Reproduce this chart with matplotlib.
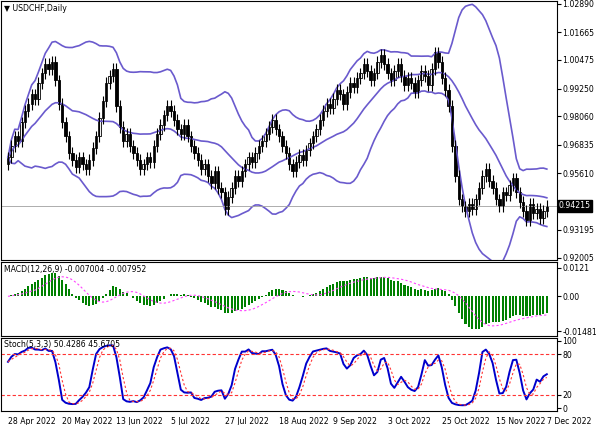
import numpy as np
import pandas as pd
import matplotlib
matplotlib.use('Agg')
import matplotlib.pyplot as plt

# approximate daily closes, USDCHF 28 Apr - 7 Dec 2022
closes = [
    0.963, 0.968, 0.972, 0.970, 0.978, 0.983, 0.986, 0.990, 0.988, 0.995, 0.999, 1.003, 1.001, 1.004, 0.996, 0.986,
    0.978, 0.972, 0.965, 0.962, 0.959, 0.963, 0.960, 0.958, 0.962, 0.967, 0.972, 0.980, 0.987, 0.995, 0.998, 1.001,
    0.985, 0.976, 0.970, 0.973, 0.968, 0.965, 0.962, 0.958, 0.960, 0.963, 0.961, 0.968, 0.973, 0.977, 0.981, 0.985,
    0.983, 0.979, 0.975, 0.973, 0.977, 0.972, 0.968, 0.965, 0.962, 0.958, 0.960, 0.955, 0.952, 0.957, 0.950, 0.948,
    0.941, 0.946, 0.950, 0.955, 0.953, 0.957, 0.960, 0.963, 0.961, 0.965, 0.968, 0.970, 0.973, 0.976, 0.979, 0.975,
    0.972, 0.968, 0.965, 0.960, 0.957, 0.961, 0.964, 0.962, 0.966, 0.969, 0.972, 0.975, 0.979, 0.983, 0.986, 0.984,
    0.988, 0.992, 0.990, 0.986, 0.991, 0.995, 0.993, 0.997, 0.999, 1.003, 1.000, 0.996, 0.999, 1.004, 1.007, 1.003,
    0.999, 0.996, 1.000, 1.003, 0.998, 0.994, 0.997, 0.995, 0.991, 0.996, 1.000, 0.998, 0.994, 1.001, 1.008, 1.004,
    0.997, 0.992, 0.985, 0.968, 0.955, 0.945, 0.942, 0.940, 0.943, 0.941, 0.945, 0.950, 0.955, 0.958, 0.953, 0.950,
    0.945, 0.942, 0.948, 0.947, 0.951, 0.954, 0.948, 0.944, 0.940, 0.936, 0.943, 0.939, 0.941, 0.937, 0.940, 0.94215,
]
first_open = 0.960
wick = 0.0025

date_labels = ['28 Apr 2022', '20 May 2022', '13 Jun 2022', '5 Jul 2022', '27 Jul 2022',
               '18 Aug 2022', '9 Sep 2022', '3 Oct 2022', '25 Oct 2022', '15 Nov 2022', '7 Dec 2022']
date_pos = [0, 16, 32, 48, 64, 80, 96, 112, 128, 144, 159]

price_ticks = [1.02890, 1.01665, 1.00475, 0.99250, 0.98060, 0.96835, 0.95610, 0.93195, 0.92005]
last_price = 0.94215

c = pd.Series(closes)
o = c.shift(1).fillna(first_open)
h = np.maximum(o, c) + wick
l = np.minimum(o, c) - wick
x = np.arange(len(c))

# Bollinger 20,2
mid = c.rolling(20, min_periods=1).mean()
sd = c.rolling(20, min_periods=1).std(ddof=0)
up, dn = mid + 2 * sd, mid - 2 * sd

# MACD 12,26,9
macd = c.ewm(span=12, adjust=False).mean() - c.ewm(span=26, adjust=False).mean()
sig = macd.rolling(9, min_periods=1).mean()

# Stoch 5,3,3
ll = l.rolling(5, min_periods=1).min()
hh = h.rolling(5, min_periods=1).max()
k = 100 * (c - ll).rolling(3, min_periods=1).sum() / (hh - ll).rolling(3, min_periods=1).sum()
d = k.rolling(3, min_periods=1).mean()

FS = 5.6
fig = plt.figure(figsize=(5.96, 4.25), dpi=100)
W, H = 596, 425
def box(y0, y1):
    return [0.002, 1 - y1 / H, 557 / W - 0.002, (y1 - y0) / H]
ax1 = fig.add_axes(box(1, 260))
ax2 = fig.add_axes(box(262, 336))
ax3 = fig.add_axes(box(338, 411))

band = '#6a5acd'
for ax in (ax1, ax2, ax3):
    ax.set_xlim(-2, 162)
    ax.yaxis.tick_right()
    ax.tick_params(axis='y', labelsize=FS, length=3, pad=1)
    ax.tick_params(axis='x', length=0)
    ax.set_xticks([])
    for s in ax.spines.values():
        s.set_linewidth(0.8)

# main panel
ax1.plot(x, up, color=band, lw=1.2)
ax1.plot(x, mid, color=band, lw=1.2)
ax1.plot(x, dn, color=band, lw=1.2)
ax1.axhline(last_price, color='#a0a0a0', lw=0.6)
for i in range(len(c)):
    ax1.vlines(x[i], l[i], h[i], color='black', lw=0.8)
    bot, top = min(o[i], c[i]), max(o[i], c[i])
    ax1.bar(x[i], max(top - bot, 0.0003), bottom=bot, width=0.7,
            color='white' if c[i] >= o[i] else 'black', edgecolor='black', lw=0.6)
ax1.set_ylim(0.9190, 1.0300)
ax1.set_yticks(price_ticks)
ax1.set_yticklabels([f'{t:.5f}' for t in price_ticks])
ax1.text(1.003, last_price, f'{last_price:.5f}', transform=ax1.get_yaxis_transform(),
         fontsize=FS, color='white', va='center', ha='left',
         bbox=dict(facecolor='black', edgecolor='black', pad=0.8))
ax1.text(0.005, 0.99, '\u25bc USDCHF,Daily', transform=ax1.transAxes, fontsize=FS, va='top')

# MACD
mtop, mbot = macd.max(), macd.min()
ax2.bar(x, macd, width=0.6, color='#008000')
ax2.plot(x, sig, color='#ff44ff', lw=0.8, ls=(0, (2, 2)))
ax2.set_ylim(mbot * 1.2, mtop * 1.45)
ax2.set_yticks([mtop * 1.2, 0.0, mbot * 1.05])
ax2.set_yticklabels([f'{mtop * 1.2:.4f}', '0.00', f'{mbot * 1.05:.5f}'])
ax2.text(0.005, 0.96, f'MACD(12,26,9) {macd.iloc[-1]:.6f} {sig.iloc[-1]:.6f}',
         transform=ax2.transAxes, fontsize=FS, va='top')

# Stoch
ax3.plot(x, k, color='#0000cc', lw=1.4)
ax3.plot(x, d, color='#ff3333', lw=0.8, ls=(0, (2, 2)))
ax3.axhline(80, color='#ff3333', lw=0.8, ls=(0, (3, 2)))
ax3.axhline(20, color='#ff3333', lw=0.8, ls=(0, (3, 2)))
ax3.set_ylim(-4, 104)
ax3.set_yticks([100, 80, 20, 0])
ax3.text(0.005, 0.97, f'Stoch(5,3,3) {k.iloc[-1]:.4f} {d.iloc[-1]:.4f}',
         transform=ax3.transAxes, fontsize=FS, va='top')

for p, lab in zip(date_pos, date_labels):
    ax3.text(p, -0.08, lab, transform=ax3.get_xaxis_transform(), fontsize=FS,
             ha='left', va='top')

fig.savefig('out.png', dpi=100)
